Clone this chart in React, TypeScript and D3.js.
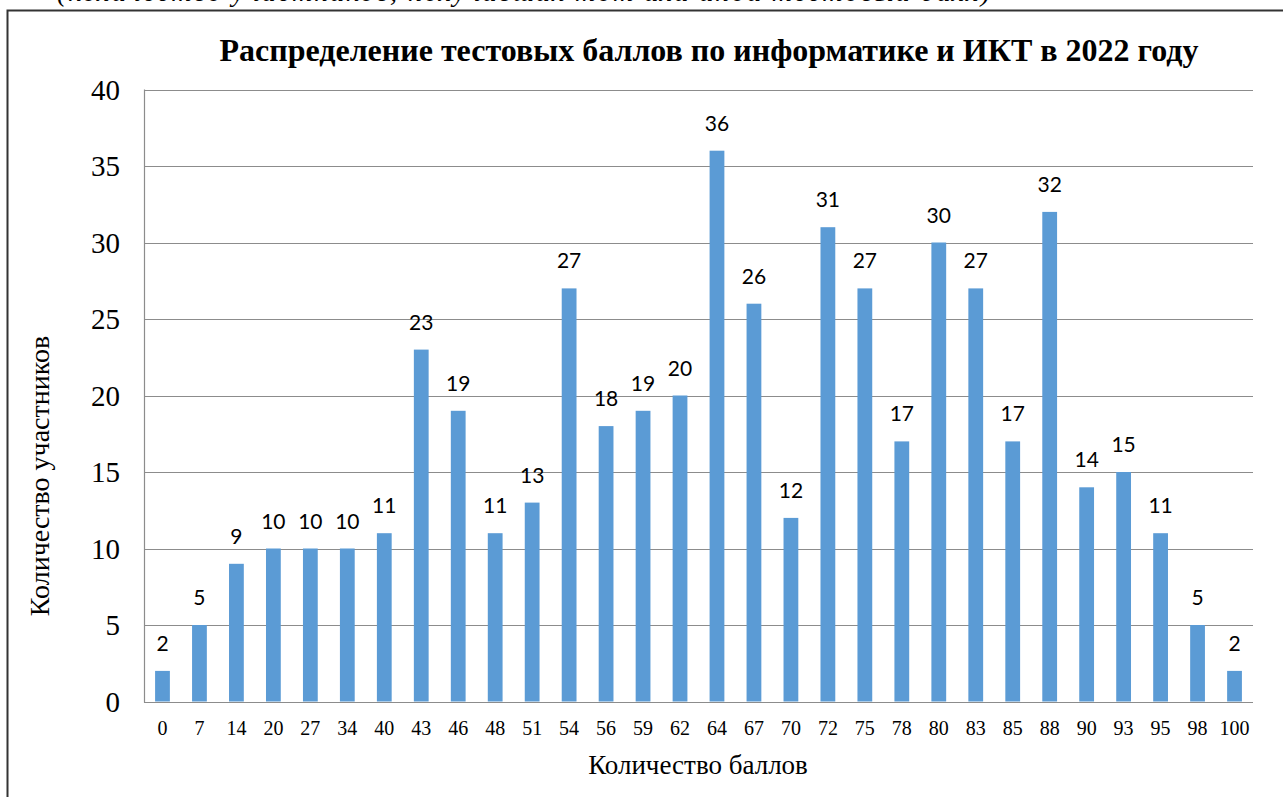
import React, { useEffect, useRef } from 'react'
import * as d3 from 'd3'

// баллы (категории) и количество участников
const scores = ['0', '7', '14', '20', '27', '34', '40', '43', '46', '48', '51', '54', '56', '59', '62', '64', '67', '70', '72', '75', '78', '80', '83', '85', '88', '90', '93', '95', '98', '100']
const counts = [2, 5, 9, 10, 10, 10, 11, 23, 19, 11, 13, 27, 18, 19, 20, 36, 26, 12, 31, 27, 17, 30, 27, 17, 32, 14, 15, 11, 5, 2]
const yTicks = [0, 5, 10, 15, 20, 25, 30, 35, 40]

const title = 'Распределение тестовых баллов по информатике и ИКТ в 2022 году'
const caption = '(количество участников, получивших тот или иной тестовый балл)'
const xTitle = 'Количество баллов'
const yTitle = 'Количество участников'

const W = 1283
const H = 797
const serif = 'Liberation Serif, DejaVu Serif, serif'

const App = () => {
	const ref = useRef<SVGSVGElement>(null)

	useEffect(() => {
		const svg = d3.select(ref.current)
		svg.selectAll('*').remove()

		const margin = { left: 144, right: 1253, top: 89.5, bottom: 701.5 }

		const x = d3.scaleBand().domain(scores).range([margin.left, margin.right]).paddingInner(0.6).paddingOuter(0.3)
		const y = d3.scaleLinear().domain([0, 40]).range([margin.bottom, margin.top])

		// подпись сверху (обрезана краем страницы)
		svg.append('text')
			.attr('x', 57)
			.attr('y', 1)
			.attr('textLength', 933)
			.attr('font-family', serif)
			.attr('font-style', 'italic')
			.attr('font-size', 28)
			.text(caption)

		// рамка
		svg.append('path')
			.attr('d', `M${W + 2},10.5 H7.5 V${H + 2}`)
			.attr('fill', 'none')
			.attr('stroke', '#333')
			.attr('stroke-width', 2)

		svg.append('text')
			.attr('x', 709)
			.attr('y', 61)
			.attr('text-anchor', 'middle')
			.attr('font-family', serif)
			.attr('font-weight', 'bold')
			.attr('font-size', 32)
			.text(title)

		// сетка
		svg.append('g')
			.selectAll('line')
			.data(yTicks)
			.enter()
			.append('line')
			.attr('x1', margin.left)
			.attr('x2', margin.right)
			.attr('y1', d => Math.round(y(d)) + 0.5)
			.attr('y2', d => Math.round(y(d)) + 0.5)
			.attr('stroke', '#8c8c8c')
			.attr('stroke-width', 1.2)

		svg.append('line')
			.attr('x1', margin.left + 0.5)
			.attr('x2', margin.left + 0.5)
			.attr('y1', margin.top)
			.attr('y2', margin.bottom + 1)
			.attr('stroke', '#8c8c8c')
			.attr('stroke-width', 1.2)

		svg.append('g')
			.selectAll('text')
			.data(yTicks)
			.enter()
			.append('text')
			.attr('x', 120)
			.attr('y', d => y(d) + 10)
			.attr('text-anchor', 'end')
			.attr('font-family', serif)
			.attr('font-size', 29)
			.text(d => d)

		// столбцы
		svg.append('g')
			.selectAll('rect')
			.data(counts)
			.enter()
			.append('rect')
			.attr('x', (d, i) => x(scores[i]) as number)
			.attr('width', x.bandwidth())
			.attr('y', d => y(d))
			.attr('height', d => y(0) - y(d))
			.attr('fill', '#5b9bd5')

		svg.append('g')
			.selectAll('text')
			.data(counts)
			.enter()
			.append('text')
			.attr('x', (d, i) => (x(scores[i]) as number) + x.bandwidth() / 2)
			.attr('y', d => y(d) - 20)
			.attr('text-anchor', 'middle')
			.attr('font-family', 'Lato, Liberation Sans, sans-serif')
			.attr('font-size', 21)
			.text(d => d)

		svg.append('g')
			.selectAll('text')
			.data(scores)
			.enter()
			.append('text')
			.attr('x', d => (x(d) as number) + x.bandwidth() / 2)
			.attr('y', 735)
			.attr('text-anchor', 'middle')
			.attr('font-family', serif)
			.attr('font-size', 20)
			.text(d => d)

		svg.append('text')
			.attr('x', 698)
			.attr('y', 774)
			.attr('text-anchor', 'middle')
			.attr('font-family', serif)
			.attr('font-size', 27)
			.text(xTitle)

		svg.append('text')
			.attr('transform', 'translate(49,476) rotate(-90)')
			.attr('text-anchor', 'middle')
			.attr('font-family', serif)
			.attr('font-size', 28)
			.text(yTitle)
	}, [])

	return (
		<svg
			ref={ref}
			width={W}
			height={H}
			style={{ position: 'absolute', left: 0, top: 0, background: '#fff' }}
		></svg>
	)
}

export default App
